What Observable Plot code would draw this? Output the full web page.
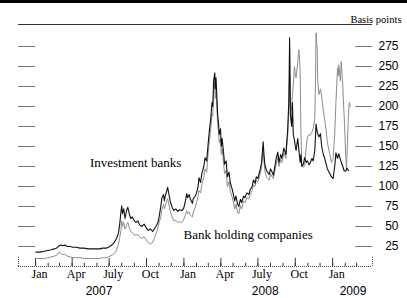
<!DOCTYPE html>
<html>
<head>
<meta charset="utf-8">
<script src="https://cdn.jsdelivr.net/npm/d3@7"></script>
<script src="https://cdn.jsdelivr.net/npm/@observablehq/plot@0.6"></script>
<style>
  html, body { margin: 0; padding: 0; background: #fff; }
  #chart { width: 407px; height: 295px; border-top: 3px solid #000; }
</style>
</head>
<body>
<div id="chart"></div>
<script>
// ---- Data ----
const investmentBanks = [
  ["2007-01-02",18],["2007-01-12",18],["2007-01-22",19],["2007-01-31",20],["2007-02-09",21],["2007-02-16",22],
  ["2007-02-22",23],["2007-02-28",26],["2007-03-05",27],["2007-03-09",26],["2007-03-14",27],["2007-03-20",25],
  ["2007-03-27",25],["2007-04-03",24],["2007-04-12",24],["2007-04-20",23],["2007-04-30",23],["2007-05-10",22],
  ["2007-05-20",22],["2007-05-30",22],["2007-06-08",22],["2007-06-15",23],["2007-06-25",23],["2007-07-03",25],
  ["2007-07-10",28],["2007-07-17",33],["2007-07-20",36],["2007-07-24",42],["2007-07-27",53],["2007-07-30",68],
  ["2007-08-01",76],["2007-08-03",66],["2007-08-06",72],["2007-08-09",60],["2007-08-13",70],["2007-08-16",74],
  ["2007-08-20",65],["2007-08-23",60],["2007-08-27",62],["2007-08-31",58],["2007-09-05",55],["2007-09-10",57],
  ["2007-09-14",52],["2007-09-19",50],["2007-09-25",53],["2007-10-01",48],["2007-10-05",45],["2007-10-10",47],
  ["2007-10-16",44],["2007-10-19",46],["2007-10-24",50],["2007-10-29",55],["2007-11-01",62],["2007-11-05",75],
  ["2007-11-08",86],["2007-11-12",90],["2007-11-14",82],["2007-11-16",88],["2007-11-20",95],["2007-11-22",99],
  ["2007-11-26",88],["2007-11-29",80],["2007-12-03",74],["2007-12-07",70],["2007-12-12",72],["2007-12-17",69],
  ["2007-12-21",71],["2007-12-27",70],["2007-12-31",72],
  ["2008-01-04",80],["2008-01-08",91],["2008-01-10",86],["2008-01-14",90],["2008-01-17",84],["2008-01-22",79],
  ["2008-01-24",85],["2008-01-29",88],["2008-02-01",92],["2008-02-05",100],["2008-02-07",111],["2008-02-11",105],
  ["2008-02-14",116],["2008-02-19",125],["2008-02-22",136],["2008-02-26",132],["2008-02-29",150],["2008-03-04",172],
  ["2008-03-07",185],["2008-03-10",205],["2008-03-12",200],["2008-03-14",232],["2008-03-17",242],["2008-03-18",222],
  ["2008-03-20",236],["2008-03-24",190],["2008-03-26",180],["2008-03-28",165],["2008-03-31",172],["2008-04-02",150],
  ["2008-04-04",160],["2008-04-08",140],["2008-04-10",128],["2008-04-14",132],["2008-04-17",112],["2008-04-21",118],
  ["2008-04-24",105],["2008-04-28",98],["2008-05-01",92],["2008-05-05",82],["2008-05-08",88],["2008-05-12",78],
  ["2008-05-15",75],["2008-05-19",84],["2008-05-22",80],["2008-05-27",88],["2008-05-30",86],["2008-06-04",92],
  ["2008-06-09",90],["2008-06-12",96],["2008-06-17",100],["2008-06-20",108],["2008-06-24",104],["2008-06-27",112],
  ["2008-07-01",110],["2008-07-07",122],["2008-07-10",130],["2008-07-14",156],["2008-07-16",140],["2008-07-18",128],
  ["2008-07-22",120],["2008-07-25",118],["2008-07-29",115],["2008-08-01",122],["2008-08-05",118],["2008-08-08",114],
  ["2008-08-12",126],["2008-08-15",135],["2008-08-19",143],["2008-08-22",130],["2008-08-26",140],["2008-08-29",135],
  ["2008-09-03",148],["2008-09-08",140],["2008-09-10",156],["2008-09-12",168],["2008-09-15",205],["2008-09-16",240],
  ["2008-09-17",286],["2008-09-18",250],["2008-09-19",190],["2008-09-22",175],["2008-09-24",205],["2008-09-26",165],
  ["2008-09-29",158],["2008-10-01",150],["2008-10-03",145],["2008-10-07",160],["2008-10-09",150],["2008-10-13",130],
  ["2008-10-15",140],["2008-10-17",125],["2008-10-21",128],["2008-10-24",136],["2008-10-28",130],["2008-10-31",132],
  ["2008-11-04",127],["2008-11-07",130],["2008-11-11",135],["2008-11-14",132],["2008-11-18",145],["2008-11-20",165],
  ["2008-11-21",178],["2008-11-24",168],["2008-11-28",162],["2008-12-02",166],["2008-12-05",150],["2008-12-09",140],
  ["2008-12-12",136],["2008-12-16",128],["2008-12-19",122],["2008-12-23",118],["2008-12-29",112],
  ["2009-01-02",110],["2009-01-06",125],["2009-01-09",142],["2009-01-13",135],["2009-01-16",141],["2009-01-21",132],
  ["2009-01-26",125],["2009-01-29",120],["2009-02-02",119],["2009-02-05",123],["2009-02-09",120]
];

const bankHoldingCompanies = [
  ["2007-01-02",10],["2007-01-12",10],["2007-01-22",10],["2007-01-31",11],["2007-02-09",12],["2007-02-16",13],
  ["2007-02-22",14],["2007-02-28",18],["2007-03-05",16],["2007-03-09",15],["2007-03-14",15],["2007-03-20",13],
  ["2007-03-27",12],["2007-04-03",11],["2007-04-12",11],["2007-04-20",11],["2007-04-30",10],["2007-05-10",10],
  ["2007-05-20",10],["2007-05-30",10],["2007-06-08",10],["2007-06-15",11],["2007-06-25",11],["2007-07-03",13],
  ["2007-07-10",15],["2007-07-17",18],["2007-07-20",22],["2007-07-24",28],["2007-07-27",36],["2007-07-30",45],
  ["2007-08-01",57],["2007-08-03",50],["2007-08-06",55],["2007-08-09",47],["2007-08-13",52],["2007-08-16",55],
  ["2007-08-20",48],["2007-08-23",44],["2007-08-27",42],["2007-08-31",40],["2007-09-05",39],["2007-09-10",40],
  ["2007-09-14",37],["2007-09-19",35],["2007-09-25",37],["2007-10-01",33],["2007-10-05",30],["2007-10-10",28],
  ["2007-10-16",30],["2007-10-19",34],["2007-10-24",40],["2007-10-29",48],["2007-11-01",55],["2007-11-05",62],
  ["2007-11-08",72],["2007-11-12",78],["2007-11-14",72],["2007-11-16",76],["2007-11-20",82],["2007-11-22",85],
  ["2007-11-26",75],["2007-11-29",68],["2007-12-03",62],["2007-12-07",57],["2007-12-12",58],["2007-12-17",55],
  ["2007-12-21",56],["2007-12-27",55],["2007-12-31",58],
  ["2008-01-04",64],["2008-01-08",70],["2008-01-10",66],["2008-01-14",68],["2008-01-17",64],["2008-01-22",62],
  ["2008-01-24",68],["2008-01-29",74],["2008-02-01",80],["2008-02-05",88],["2008-02-07",95],["2008-02-11",92],
  ["2008-02-14",102],["2008-02-19",112],["2008-02-22",122],["2008-02-26",118],["2008-02-29",138],["2008-03-04",158],
  ["2008-03-07",172],["2008-03-10",190],["2008-03-12",188],["2008-03-14",215],["2008-03-17",230],["2008-03-18",210],
  ["2008-03-20",222],["2008-03-24",178],["2008-03-26",168],["2008-03-28",155],["2008-03-31",160],["2008-04-02",140],
  ["2008-04-04",148],["2008-04-08",128],["2008-04-10",116],["2008-04-14",120],["2008-04-17",100],["2008-04-21",106],
  ["2008-04-24",94],["2008-04-28",88],["2008-05-01",82],["2008-05-05",72],["2008-05-08",78],["2008-05-12",68],
  ["2008-05-15",66],["2008-05-19",76],["2008-05-22",72],["2008-05-27",82],["2008-05-30",80],["2008-06-04",86],
  ["2008-06-09",85],["2008-06-12",90],["2008-06-17",95],["2008-06-20",102],["2008-06-24",100],["2008-06-27",108],
  ["2008-07-01",106],["2008-07-07",116],["2008-07-10",124],["2008-07-14",145],["2008-07-16",132],["2008-07-18",120],
  ["2008-07-22",112],["2008-07-25",110],["2008-07-29",108],["2008-08-01",116],["2008-08-05",112],["2008-08-08",110],
  ["2008-08-12",120],["2008-08-15",128],["2008-08-19",136],["2008-08-22",125],["2008-08-26",134],["2008-08-29",130],
  ["2008-09-03",142],["2008-09-08",135],["2008-09-10",150],["2008-09-12",160],["2008-09-15",190],["2008-09-16",215],
  ["2008-09-17",240],["2008-09-18",225],["2008-09-19",200],["2008-09-22",195],["2008-09-24",215],["2008-09-26",225],
  ["2008-09-29",250],["2008-10-01",240],["2008-10-03",236],["2008-10-07",255],["2008-10-09",268],["2008-10-10",271],
  ["2008-10-13",245],["2008-10-14",200],["2008-10-15",165],["2008-10-17",128],["2008-10-21",124],["2008-10-24",126],
  ["2008-10-28",150],["2008-10-31",162],["2008-11-04",165],["2008-11-07",164],["2008-11-11",168],["2008-11-14",172],
  ["2008-11-18",185],["2008-11-20",240],["2008-11-21",292],["2008-11-24",270],["2008-11-25",235],["2008-11-28",215],
  ["2008-12-02",222],["2008-12-05",212],["2008-12-09",195],["2008-12-12",185],["2008-12-16",170],["2008-12-19",155],
  ["2008-12-23",145],["2008-12-29",130],
  ["2009-01-02",135],["2009-01-06",165],["2009-01-09",205],["2009-01-13",248],["2009-01-15",238],["2009-01-16",252],
  ["2009-01-20",232],["2009-01-22",256],["2009-01-26",225],["2009-01-28",200],["2009-01-30",180],["2009-02-02",140],
  ["2009-02-04",122],["2009-02-06",150],["2009-02-09",192],["2009-02-11",205],["2009-02-13",200]
];

const yTicks = [25, 50, 75, 100, 125, 150, 175, 200, 225, 250, 275];
const quarterTickDates = ["2007-01-01","2007-04-01","2007-07-01","2007-10-01","2008-01-01","2008-04-01","2008-07-01","2008-10-01","2009-01-01"];
const monthLabels = ["Jan","Apr","July","Oct","Jan","Apr","July","Oct","Jan"];
const yearLabels = ["2007","2008","2009"];
const yearLabelDates = ["2007-06-06","2008-07-19","2009-02-20"];
const seriesLabels = [
  {date: "2007-09-04", value: 130, text: "Investment banks"},
  {date: "2008-06-07", value: 40, text: "Bank holding companies"}
];

// ---- Scales / helpers ----
const parse = s => new Date(s + "T00:00:00Z");
const xDomain = [parse("2006-11-20"), parse("2009-04-09")];
const yMax = 302.5;
const leftTickEnd = parse("2007-01-01");
const rightTickStart = parse("2009-02-27");

const ib = investmentBanks.map(([d, v]) => ({date: parse(d), value: v}));
const bhc = bankHoldingCompanies.map(([d, v]) => ({date: parse(d), value: v}));
const quarters = quarterTickDates.map((d, i) => ({date: parse(d), label: monthLabels[i]}));
const months = d3.utcMonth.range(parse("2007-01-01"), parse("2009-03-02"));
const years = yearLabels.map((t, i) => ({date: parse(yearLabelDates[i]), label: t}));
const notes = seriesLabels.map(d => ({...d, date: parse(d.date)}));

const numFont = "'Liberation Sans Narrow', 'Liberation Sans', Arial, sans-serif";
const serifFont = "'Liberation Serif', 'Times New Roman', serif";

const chart = Plot.plot({
  width: 407,
  height: 295,
  marginLeft: 18,
  marginRight: 35,
  marginTop: 21,
  marginBottom: 32,
  style: {background: "#fff", fontFamily: serifFont, color: "#000"},
  x: {type: "utc", domain: xDomain, axis: null},
  y: {domain: [0, yMax], axis: null},
  marks: [
    Plot.ruleY([yMax], {stroke: "#333", strokeWidth: 1.2}),
    Plot.ruleY(yTicks, {x1: xDomain[0], x2: leftTickEnd, stroke: "#777", strokeWidth: 1}),
    Plot.ruleY(yTicks, {x1: rightTickStart, x2: xDomain[1], stroke: "#777", strokeWidth: 1}),
    Plot.text(yTicks, {y: d => d, frameAnchor: "right", dx: 26, textAnchor: "end", text: d => String(d),
      fontFamily: numFont, fontSize: 12, fill: "#000"}),
    Plot.text(["Basis points"], {frameAnchor: "top-right", dx: 29, dy: -9, textAnchor: "end",
      fontFamily: serifFont, fontSize: 10.5, fill: "#000"}),
    Plot.ruleY([0], {stroke: "#444", strokeWidth: 1, strokeDasharray: "1 1"}),
    Plot.ruleX(xDomain, {y1: 0, y2: 12.5, stroke: "#444", strokeDasharray: "1 1"}),
    Plot.ruleX(months, {x: d => d, y1: 0, y2: 4, stroke: "#333", strokeWidth: 1}),
    Plot.ruleX(quarters, {x: "date", y1: 0, y2: 10, stroke: "#333", strokeWidth: 1}),
    Plot.text(quarters, {x: "date", text: "label", frameAnchor: "bottom", dx: 4, dy: 8, lineAnchor: "middle",
      fontFamily: serifFont, fontSize: 12, fill: "#000"}),
    Plot.text(years, {x: "date", text: "label", frameAnchor: "bottom", dy: 25, lineAnchor: "middle",
      fontFamily: numFont, fontSize: 12, fill: "#000"}),
    Plot.line(bhc, {x: "date", y: "value", stroke: "#8c8c8c", strokeWidth: 1}),
    Plot.line(ib, {x: "date", y: "value", stroke: "#111", strokeWidth: 1.1}),
    Plot.text(notes, {x: "date", y: "value", text: "text", fontFamily: serifFont, fontSize: 13, fill: "#000"})
  ]
});
document.getElementById("chart").appendChild(chart);
</script>
</body>
</html>
